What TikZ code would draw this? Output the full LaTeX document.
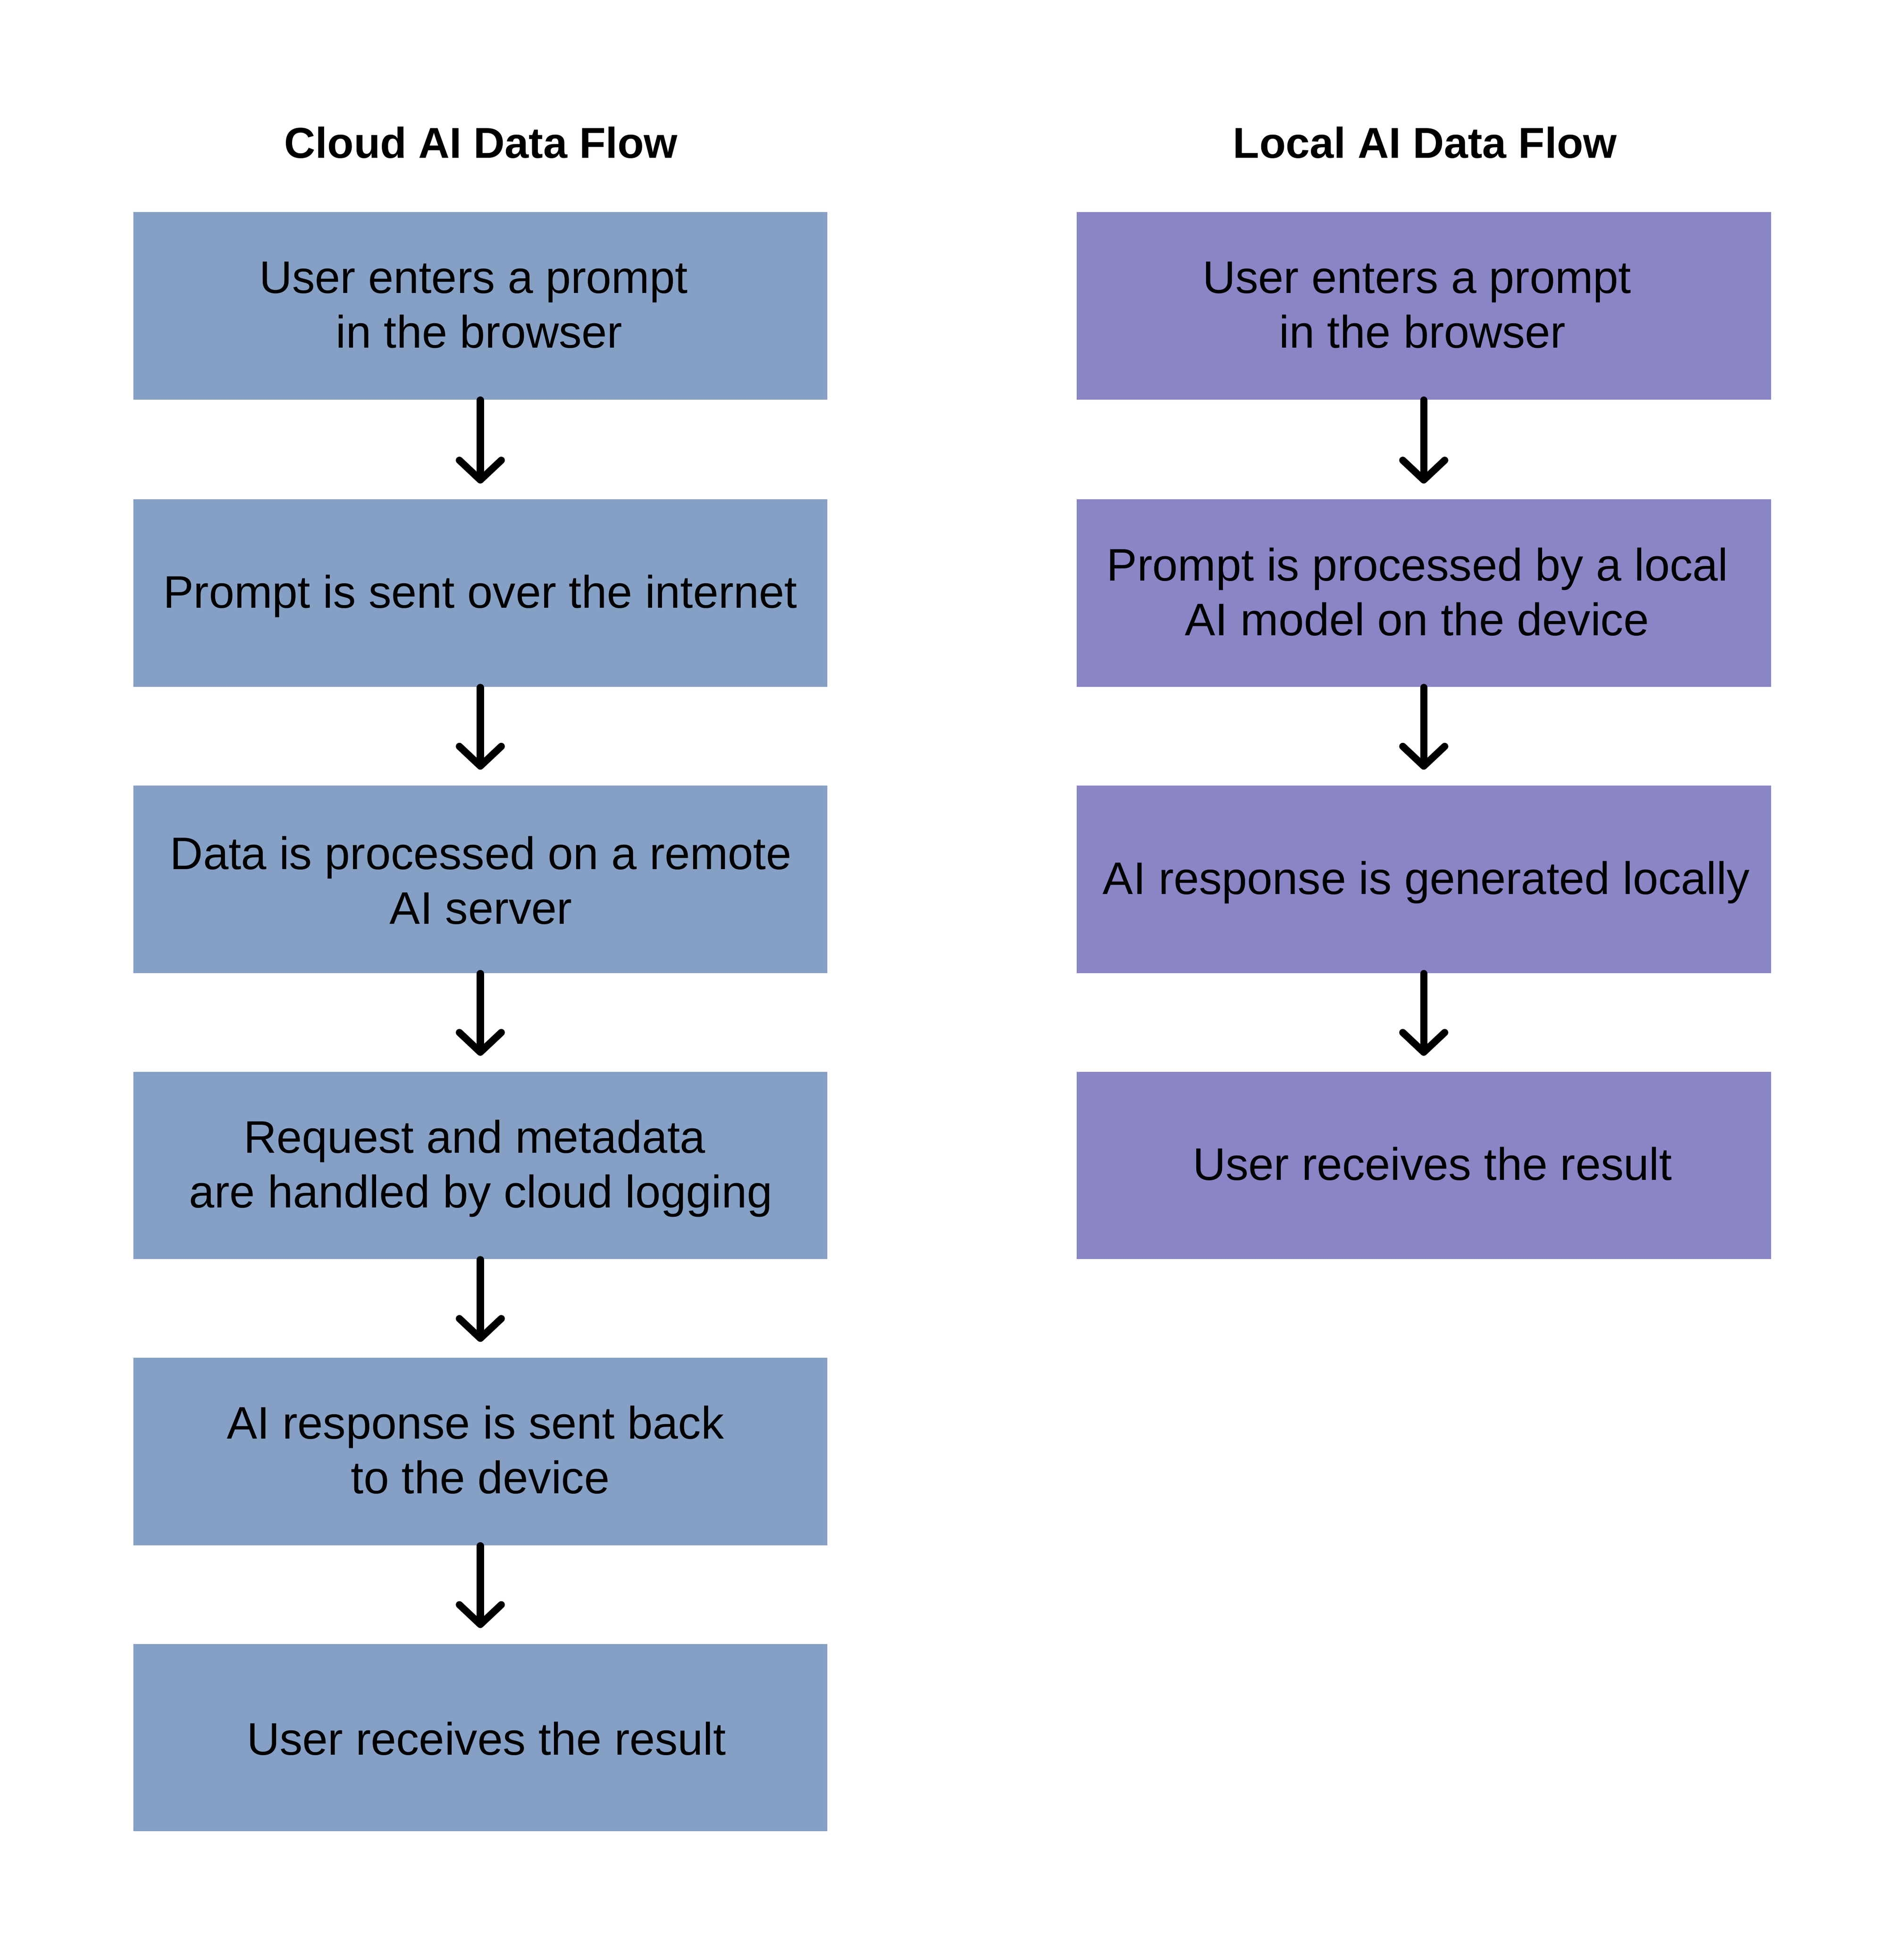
\documentclass[tikz,border=0pt]{standalone}
\usepackage{fontspec}
\setmainfont{Liberation Sans}
\usetikzlibrary{arrows.meta}
\definecolor{cloudblue}{HTML}{86A0C5}
\definecolor{localpurple}{HTML}{8A85C5}
\tikzset{
  boxbase/.style={rectangle, draw=none, inner sep=0pt, minimum width=281.5pt, minimum height=76pt},
  cbox/.style={boxbase, fill=cloudblue},
  lbox/.style={boxbase, fill=localpurple},
  txt/.style={anchor=base, inner sep=0pt, font=\fontsize{18.5}{22}\selectfont},
  ttl/.style={anchor=base, inner sep=0pt, font=\fontsize{17.5}{21}\selectfont\bfseries},
  flow/.style={line width=2.9pt, line cap=round, shorten >=6.25pt,
    -{Straight Barb[length=8pt, width=17pt, line cap=round, line join=round]}}
}
\begin{document}
\begin{tikzpicture}[x=0.5pt,y=-0.5pt]
\fill[white] (0,0) rectangle (1543.6,1567.4);
\useasboundingbox (0,0) rectangle (1543.6,1567.4);

% titles
\node[ttl] (tc) at (390,128) {Cloud AI Data Flow};
\node[ttl] (tl) at (1155.5,128) {Local AI Data Flow};

% cloud boxes
\node[cbox] (c1) at (389.5,248) {};
\node[cbox] (c2) at (389.5,481) {};
\node[cbox] (c3) at (389.5,713) {};
\node[cbox] (c4) at (389.5,945) {};
\node[cbox] (c5) at (389.5,1177) {};
\node[cbox] (c6) at (389.5,1409) {};

% local boxes
\node[lbox] (l1) at (1154.5,248) {};
\node[lbox] (l2) at (1154.5,481) {};
\node[lbox] (l3) at (1154.5,713) {};
\node[lbox] (l4) at (1154.5,945) {};

% cloud texts
\node[txt] (c1a) at ([shift={(-5.5,-10.2)}]c1.center) {User enters a prompt};
\node[txt] (c1b) at ([shift={(-1,34.2)}]c1.center) {in the browser};
\node[txt] (c2a) at ([shift={(0,12)}]c2.center) {Prompt is sent over the internet};
\node[txt] (c3a) at ([shift={(0.5,-8.2)}]c3.center) {Data is processed on a remote};
\node[txt] (c3b) at ([shift={(0.5,36.2)}]c3.center) {AI server};
\node[txt] (c4a) at ([shift={(-4.5,-10.2)}]c4.center) {Request and metadata};
\node[txt] (c4b) at ([shift={(0.5,34.2)}]c4.center) {are handled by cloud logging};
\node[txt] (c5a) at ([shift={(-4,-10.2)}]c5.center) {AI response is sent back};
\node[txt] (c5b) at ([shift={(0,34.2)}]c5.center) {to the device};
\node[txt] (c6a) at ([shift={(5,14)}]c6.center) {User receives the result};

% local texts
\node[txt] (l1a) at ([shift={(-5.5,-10.2)}]l1.center) {User enters a prompt};
\node[txt] (l1b) at ([shift={(-1,34.2)}]l1.center) {in the browser};
\node[txt] (l2a) at ([shift={(-5,-10.2)}]l2.center) {Prompt is processed by a local};
\node[txt] (l2b) at ([shift={(-5.5,34.2)}]l2.center) {AI model on the device};
\node[txt] (l3a) at ([shift={(2,12)}]l3.center) {AI response is generated locally};
\node[txt] (l4a) at ([shift={(7,12)}]l4.center) {User receives the result};

% arrows
\draw[flow] (c1.south) -- (c2.north);
\draw[flow] (c2.south) -- (c3.north);
\draw[flow] (c3.south) -- (c4.north);
\draw[flow] (c4.south) -- (c5.north);
\draw[flow] (c5.south) -- (c6.north);
\draw[flow] (l1.south) -- (l2.north);
\draw[flow] (l2.south) -- (l3.north);
\draw[flow] (l3.south) -- (l4.north);
\end{tikzpicture}
\end{document}
